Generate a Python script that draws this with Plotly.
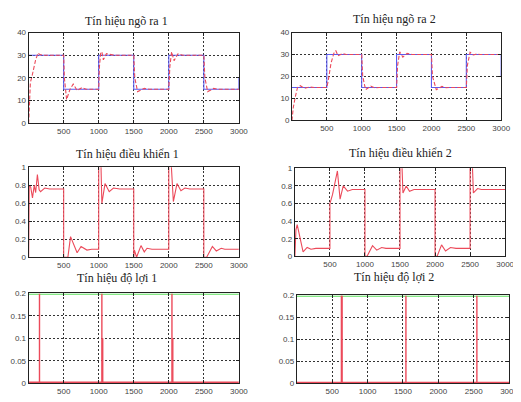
import plotly.graph_objects as go

# ---------------- data ----------------
titles = ["Tín hiệu ngõ ra 1", "Tín hiệu ngõ ra 2",
          "Tín hiệu điều khiển 1", "Tín hiệu điều khiển 2",
          "Tín hiệu độ lợi 1", "Tín hiệu độ lợi 2"]

x_ticks = [500, 1000, 1500, 2000, 2500, 3000]
y_ticks_out = [0, 10, 20, 30, 40]
y_ticks_ctrl = [0, 0.2, 0.4, 0.6, 0.8, 1]
y_ticks_gain = [0, 0.05, 0.1, 0.15, 0.2]
y_ticklabels_ctrl = ["0", "0.2", "0.4", "0.6", "0.8", "1"]
y_ticklabels_gain = ["0", "0.05", "0.1", "0.15", "0.2"]

# reference (setpoint) signals
ref1_t = [0, 500, 500, 1000, 1000, 1500, 1500, 2000, 2000, 2500, 2500, 3000, 3000]
ref1_v = [30, 30, 15, 15, 30, 30, 15, 15, 30, 30, 15, 15, 20]
ref2_t = [0, 500, 500, 1000, 1000, 1500, 1500, 2000, 2000, 2500, 2500, 3000, 3000]
ref2_v = [15, 15, 30, 30, 15, 15, 30, 30, 15, 15, 30, 30, 20]

# outputs
out1_t = [0, 10, 25, 50, 100, 135, 160, 200, 500, 510, 542, 590, 636, 692, 762, 820,
          1000, 1010, 1030, 1047, 1066, 1110, 1168, 1220, 1500, 1515, 1555, 1600, 1650, 1720,
          2000, 2015, 2040, 2075, 2130, 2200, 2500, 2515, 2555, 2600, 2640, 2700, 3000]
out1_v = [0, 10, 18, 21, 28, 31, 30.3, 30, 30, 20, 10.5, 15, 17.3, 14.5, 15.8, 15,
          15, 25, 31.5, 31.2, 28, 30.7, 30.3, 30, 30, 20, 14, 14.6, 15.4, 15,
          15, 25, 31.5, 27.6, 30.6, 30, 30, 20, 14, 14.7, 15.4, 15, 15]

out2_t = [0, 20, 50, 80, 120, 180, 250, 320, 500, 520, 560, 600, 630, 660, 720, 780,
          1000, 1015, 1056, 1130, 1190, 1250, 1500, 1515, 1545, 1590, 1650, 1720,
          2000, 2015, 2070, 2150, 2210, 2260, 2500, 2515, 2554, 2600, 2650, 2700, 3000]
out2_v = [0, 6, 11, 15, 15.8, 14.6, 15.2, 15, 15, 18, 26, 30.5, 31.7, 29.4, 30.4, 30,
          30, 20, 14, 15.6, 14.8, 15, 15, 25, 31.2, 28.8, 30.5, 30,
          30, 20, 14, 15.5, 14.9, 15, 15, 25, 31, 29.8, 30.2, 30, 30]

# control signals
ctrl1_t = [0, 3, 8, 30, 55, 80, 100, 125, 150, 170, 230, 300, 500, 500, 560, 598, 692, 748, 832, 900,
           1000, 1000, 1030, 1045, 1090, 1150, 1210, 1300, 1500, 1500, 1510, 1540, 1603, 1650, 1690, 1760,
           2000, 2000, 2030, 2065, 2117, 2173, 2230, 2300, 2500, 2500, 2540, 2622, 2678, 2748, 2800, 3000]
ctrl1_v = [0, 0.8, 0.8, 0.78, 0.66, 0.8, 0.72, 0.92, 0.75, 0.73, 0.77, 0.76, 0.76, 0, 0, 0.23, 0.05, 0.12, 0.08, 0.09,
           0.09, 1.15, 1.1, 0.6, 0.82, 0.73, 0.77, 0.76, 0.76, 0, 0.08, 0, 0.13, 0.06, 0.1, 0.09,
           0.09, 1.15, 1.1, 0.62, 0.82, 0.74, 0.77, 0.76, 0.76, 0, 0, 0.12, 0.07, 0.1, 0.09, 0.09]

ctrl2_t = [0, 5, 15, 33, 60, 117, 175, 230, 300, 500, 500, 537, 607, 645, 690, 752, 820,
           1000, 1000, 1030, 1108, 1168, 1238, 1300, 1500, 1500, 1525, 1542, 1589, 1636, 1700,
           2000, 2000, 2030, 2093, 2150, 2220, 2300, 2500, 2500, 2530, 2547, 2607, 2660, 3000]
ctrl2_v = [0, 0.1, 0.3, 0.36, 0.25, 0.05, 0.1, 0.08, 0.09, 0.09, 0.6, 0.7, 0.97, 0.65, 0.8, 0.74, 0.76,
           0.76, 0, 0, 0.12, 0.07, 0.1, 0.09, 0.09, 1.15, 1.1, 0.72, 0.8, 0.74, 0.76,
           0.76, 0, 0, 0.13, 0.06, 0.1, 0.09, 0.09, 1.15, 1.1, 0.72, 0.77, 0.76, 0.76]

# gain signals
gain_limit = 0.1985
gain_base = 0.002
gain1_spike_t = [155, 1045, 1057, 2045, 2057]
gain1_spike_h = [0.2, 0.2, 0.1, 0.2, 0.1]
gain2_spike_t = [630, 640, 1542, 2545]
gain2_spike_h = [0.2, 0.2, 0.2, 0.2]

# ---------------- styling ----------------
RED = "#ec4a5a"
BLUE = "#5a5af0"
GREEN = "#5ee05e"

# page pixel boxes (the page body has an 8px margin, so the figure is offset by 8px)
OFF = 8
W, H = 521 - OFF, 402 - OFF
domains = [
    ([29, 243], [29, 122]),
    ([297, 510], [29, 119]),
    ([29, 243], [167, 259]),
    ([300, 514], [168, 258]),
    ([29, 243], [296, 388]),
    ([302, 518], [298, 388]),
]
title_pos = [(129, 17), (401, 15), (130, 153), (408, 152), (119, 280), (401, 279)]

fig = go.Figure()


def ax_names(i):
    n = "" if i == 0 else str(i + 1)
    return "x" + n, "y" + n


def add_line(i, x, y, color, width=1.0, dash=None):
    xa, ya = ax_names(i)
    fig.add_trace(go.Scatter(x=x, y=y, mode="lines", xaxis=xa, yaxis=ya,
                             line=dict(color=color, width=width, dash=dash),
                             showlegend=False, hoverinfo="skip"))


def spikes(ts, hs):
    xs, ys = [], []
    for t, h in zip(ts, hs):
        xs += [t, t, None]
        ys += [0, h, None]
    return xs, ys


add_line(0, ref1_t, ref1_v, BLUE, 1.1)
add_line(0, out1_t, out1_v, RED, 1.1, "4px,2px")
add_line(1, ref2_t, ref2_v, BLUE, 1.1)
add_line(1, out2_t, out2_v, RED, 1.1, "4px,2px")
add_line(2, ctrl1_t, ctrl1_v, RED, 1.1)
add_line(3, ctrl2_t, ctrl2_v, RED, 1.1)

for i, (st, sh) in ((4, (gain1_spike_t, gain1_spike_h)), (5, (gain2_spike_t, gain2_spike_h))):
    add_line(i, [0, 3000], [gain_limit, gain_limit], GREEN, 1.3)
    add_line(i, [0, 3000], [gain_base, gain_base], RED, 1.6)
    sx, sy = spikes(st, sh)
    add_line(i, sx, sy, RED, 1.4)

y_cfg = [
    ([0, 40], y_ticks_out, [str(v) for v in y_ticks_out]),
    ([0, 40], y_ticks_out, [str(v) for v in y_ticks_out]),
    ([0, 1], y_ticks_ctrl, y_ticklabels_ctrl),
    ([0, 1], y_ticks_ctrl, y_ticklabels_ctrl),
    ([0, 0.2], y_ticks_gain, y_ticklabels_gain),
    ([0, 0.2], y_ticks_gain, y_ticklabels_gain),
]

tick_font = dict(family="Liberation Sans, Arial, sans-serif", size=8, color="#444444")
layout = dict(width=W, height=H, margin=dict(l=0, r=0, t=0, b=0),
              paper_bgcolor="white", plot_bgcolor="white", annotations=[])

for i, ((x0, x1), (y0, y1)) in enumerate(domains):
    n = "" if i == 0 else str(i + 1)
    yr, yt, ytl = y_cfg[i]
    common = dict(showline=True, mirror="ticks", linecolor="#222222", linewidth=1,
                  ticks="inside", ticklen=3, tickcolor="#222222",
                  showgrid=True, gridcolor="#333333", griddash="2px,2px", gridwidth=1,
                  zeroline=False, tickfont=tick_font, fixedrange=True)
    layout["xaxis" + n] = dict(domain=[(x0 - OFF) / W, (x1 - OFF) / W], range=[0, 3000],
                               tickvals=x_ticks, ticktext=[str(v) for v in x_ticks],
                               anchor="y" + n, **common)
    layout["yaxis" + n] = dict(domain=[1 - (y1 - OFF) / H, 1 - (y0 - OFF) / H], range=yr,
                               tickvals=yt, ticktext=ytl, anchor="x" + n, **common)
    tx, ty = title_pos[i]
    layout["annotations"].append(dict(
        text=titles[i], x=(tx - OFF) / W, y=1 - (ty - OFF) / H, xref="paper", yref="paper",
        xanchor="center", yanchor="middle", showarrow=False,
        font=dict(family="Liberation Serif, Times New Roman, serif", size=12, color="#222222")))

fig.update_layout(**layout)
fig.write_html("out.html")
